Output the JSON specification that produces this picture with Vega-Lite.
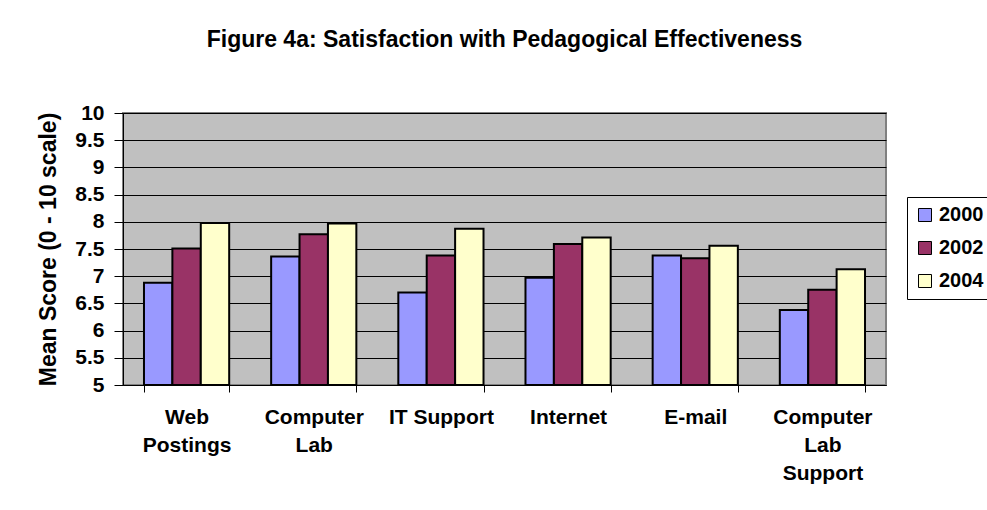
{
  "$schema": "https://vega.github.io/schema/vega-lite/v6.json",
  "autosize": "none",
  "width": 763,
  "height": 272,
  "padding": {"left": 123, "top": 113, "right": 101, "bottom": 125},
  "background": "white",
  "title": {
    "text": "Figure 4a: Satisfaction with Pedagogical Effectiveness",
    "font": "Liberation Sans",
    "fontSize": 23,
    "fontWeight": "bold",
    "color": "black",
    "anchor": "middle",
    "offset": 50
  },
  "data": {
    "values": [
      {"item": "Web Postings", "year": "2000", "score": 6.88},
      {"item": "Web Postings", "year": "2002", "score": 7.51},
      {"item": "Web Postings", "year": "2004", "score": 7.98},
      {"item": "Computer Lab", "year": "2000", "score": 7.36},
      {"item": "Computer Lab", "year": "2002", "score": 7.77},
      {"item": "Computer Lab", "year": "2004", "score": 7.97},
      {"item": "IT Support", "year": "2000", "score": 6.70},
      {"item": "IT Support", "year": "2002", "score": 7.38},
      {"item": "IT Support", "year": "2004", "score": 7.87},
      {"item": "Internet", "year": "2000", "score": 6.97},
      {"item": "Internet", "year": "2002", "score": 7.59},
      {"item": "Internet", "year": "2004", "score": 7.71},
      {"item": "E-mail", "year": "2000", "score": 7.38},
      {"item": "E-mail", "year": "2002", "score": 7.33},
      {"item": "E-mail", "year": "2004", "score": 7.56},
      {"item": "Computer Lab Support", "year": "2000", "score": 6.38},
      {"item": "Computer Lab Support", "year": "2002", "score": 6.75},
      {"item": "Computer Lab Support", "year": "2004", "score": 7.13}
    ]
  },
  "mark": {"type": "bar", "stroke": "black", "strokeWidth": 2},
  "encoding": {
    "x": {
      "field": "item",
      "type": "nominal",
      "sort": null,
      "scale": {"paddingInner": 0.33, "paddingOuter": 0.165},
      "axis": {
        "title": null,
        "labelAngle": 0,
        "labelExpr": "datum.label == 'IT Support' ? datum.label : split(datum.label, ' ')",
        "labelFont": "Liberation Sans",
        "labelFontSize": 21,
        "labelFontWeight": "bold",
        "labelColor": "black",
        "labelLineHeight": 28,
        "labelPadding": 14,
        "labelBaseline": "top",
        "tickBand": "extent",
        "tickSize": 7,
        "tickColor": "black",
        "domainColor": "black",
        "domainWidth": 1,
        "grid": false
      }
    },
    "xOffset": {"field": "year", "type": "nominal", "scale": {"paddingInner": 0, "paddingOuter": 0}},
    "y": {
      "field": "score",
      "type": "quantitative",
      "scale": {"domain": [5, 10], "zero": false, "nice": false},
      "axis": {
        "title": "Mean Score (0 - 10 scale)",
        "titleFont": "Liberation Sans",
        "titleFontSize": 23,
        "titleFontWeight": "bold",
        "titleColor": "black",
        "titlePadding": 14,
        "values": [5, 5.5, 6, 6.5, 7, 7.5, 8, 8.5, 9, 9.5, 10],
        "format": "~g",
        "labelFont": "Liberation Sans",
        "labelFontSize": 21,
        "labelFontWeight": "bold",
        "labelColor": "black",
        "labelPadding": 10,
        "tickSize": 9,
        "tickColor": "black",
        "domainColor": "black",
        "grid": true,
        "gridColor": "black",
        "gridWidth": 1,
        "gridOpacity": 1
      }
    },
    "y2": {"datum": 5},
    "color": {
      "field": "year",
      "type": "nominal",
      "scale": {"domain": ["2000", "2002", "2004"], "range": ["#9999FF", "#993366", "#FFFFCC"]},
      "legend": {
        "title": null,
        "orient": "none",
        "legendX": 784,
        "legendY": 84,
        "direction": "vertical",
        "fillColor": "white",
        "strokeColor": "black",
        "padding": 8,
        "rowPadding": 13,
        "symbolType": "square",
        "symbolSize": 169,
        "symbolStrokeColor": "black",
        "symbolStrokeWidth": 1,
        "symbolOpacity": 1,
        "labelFont": "Liberation Sans",
        "labelFontSize": 20,
        "labelFontWeight": "bold",
        "labelColor": "black",
        "labelOffset": 4
      }
    }
  },
  "config": {
    "view": {"fill": "#C0C0C0", "stroke": "#808080", "strokeWidth": 2}
  }
}
